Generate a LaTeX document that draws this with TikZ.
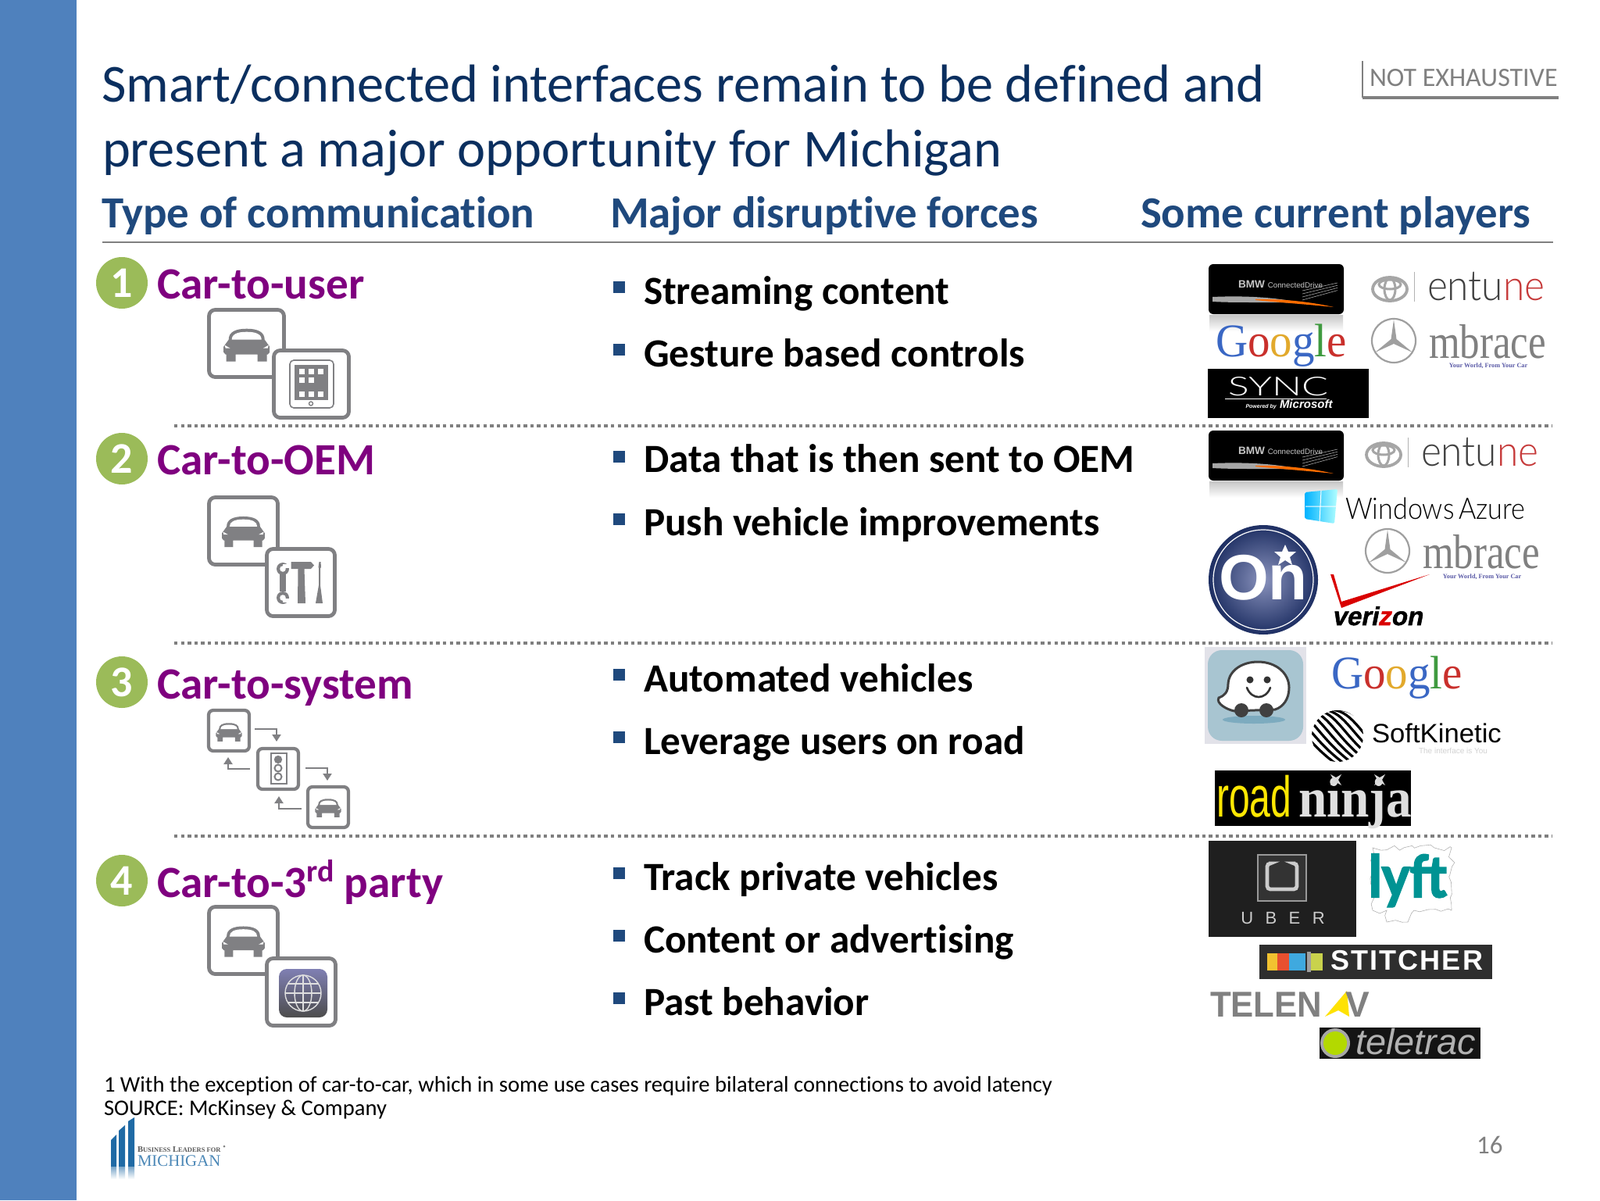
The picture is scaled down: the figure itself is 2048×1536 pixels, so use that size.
\documentclass[tikz,border=0pt]{standalone}
\usepackage{fontspec}
\usepackage{graphicx}
\usetikzlibrary{decorations.pathmorphing,arrows.meta}
\setmainfont{Carlito}[Ligatures={NoCommon}]
\newfontfamily\serifl{Liberation Serif}
\newfontfamily\sansl{Liberation Sans}
\newfontfamily\latol{Lato}
\newfontfamily\latolight{Lato Light}
\newfontfamily\lyftf[FakeBold=3]{Lato Bold}
\newfontfamily\vzf[FakeBold=1.5,FakeSlant=0.2]{Liberation Sans Bold}
\newfontfamily\stitchf[LetterSpace=6]{Liberation Sans Bold}
\definecolor{barblue}{HTML}{4F81BD}
\definecolor{titlenavy}{HTML}{0B2F5F}
\definecolor{headblue}{HTML}{1F497D}
\definecolor{bulletblue}{HTML}{1F497D}
\definecolor{labpurple}{HTML}{7F007F}
\definecolor{circgreen}{HTML}{9BBB59}
\definecolor{icongray}{HTML}{808083}
\definecolor{dotgray}{HTML}{7F7F7F}
\definecolor{gblue}{HTML}{3A67C4}
\definecolor{gred}{HTML}{C9302C}
\definecolor{gyellow}{HTML}{E2A92C}
\definecolor{ggreen}{HTML}{3F9A3F}
\newcommand{\fs}[1]{\fontsize{#1}{#1}\selectfont}
\newcommand{\googleword}{\textcolor{gblue}{G}\textcolor{gred}{o}\textcolor{gyellow}{o}\textcolor{gblue}{g}\textcolor{ggreen}{l}\textcolor{gred}{e}}
\tikzset{
  txt/.style={inner sep=0pt,outer sep=0pt,anchor=base west},
  ctr/.style={inner sep=0pt,outer sep=0pt,anchor=base},
  numcirc/.style={circle,fill=circgreen,minimum size=33pt,inner sep=0pt,text=white,font=\bfseries\fs{28}},
  lab/.style={txt,text=labpurple,font=\bfseries\fs{28.6}},
  headtxt/.style={txt,text=headblue,font=\bfseries\fs{28.45}},
  titletxt/.style={txt,text=titlenavy,font=\fs{34.2}},
  bullettxt/.style={txt,text=black,font=\bfseries\fs{25.6}},
  bulletmark/.style={fill=bulletblue,draw=none},
  iconbox/.style={draw=icongray,fill=white,line width=2.4pt,rounded corners=4pt},
  iconboxs/.style={draw=icongray,fill=white,line width=2.1pt,rounded corners=3pt},
  sep/.style={draw=dotgray,line width=2pt,dash pattern=on 2.2pt off 2.1pt},
  smallarrow/.style={draw=icongray,line width=1pt,-{Triangle[length=4.5pt,width=5.5pt]}},
  footnote/.style={txt,text=black,font=\fs{14.3}},
  car/.pic={
    \fill[icongray] (-23,-7) .. controls (-23,-17) and (-14,-21) .. (0,-21) .. controls (14,-21) and (23,-17) .. (23,-7) -- (29.5,2) -- (29.5,9) -- (27,12) -- (26,12) -- (26,21) -- (14,21) -- (14,12) -- (-14,12) -- (-14,21) -- (-26,21) -- (-26,12) -- (-27,12) -- (-29.5,9) -- (-29.5,2) -- cycle;
    \fill[white] (-19,-7) .. controls (-19,-14) and (-12,-17) .. (0,-17) .. controls (12,-17) and (19,-14) .. (19,-7) -- cycle;
    \fill[white] (-28,0) -- (-21,4) -- (-27,4) -- cycle;
    \fill[white] (28,0) -- (21,4) -- (27,4) -- cycle;
  },
  toyota/.pic={
    \draw[gray!70,line width=1.9pt] (0,0) ellipse [x radius=22,y radius=15];
    \draw[gray!70,line width=1.5pt] (0,0) ellipse [x radius=7,y radius=14];
    \draw[gray!70,line width=1.5pt] (0,-6) ellipse [x radius=14,y radius=6];
  },
  mbstar/.pic={
    \draw[gray!75,line width=1.1pt] (0,0) circle [radius=28];
    \fill[gray!75] (0,-27) -- (3.5,-2) -- (24,15) -- (0,4) -- (-24,15) -- (-3.5,-2) -- cycle;
  },
  shuriken/.pic={
    \fill[gray!30] (-7,-7) -- (0,-3) -- (7,-7) -- (3,0) -- (7,7) -- (0,3) -- (-7,7) -- (-3,0) -- cycle;
  },
}
\newcommand{\entune}[2]{%
  \node[txt,font=\latolight\fs{27}] (#1) at (#2) {\scalebox{.92}[1]{\textcolor{black!75}{ent}\textcolor{black!75}{u}\textcolor{red!55!gray}{ne}}};}
\newcommand{\mbrace}[2]{%
  \node[txt,text=gray,font=\serifl\fs{27}] (#1) at (#2) {\scalebox{0.945}[1.15]{mbrace}};}
\newcommand{\bmwlogo}[2]{%
  \begin{scope}[shift={(#2)}]
    \fill[black,rounded corners=3pt] (0,0) rectangle (173,64);
    \fill[gray!70] (5,42) .. controls (50,40) and (90,43) .. (120,50) .. controls (80,48) and (40,50) .. (5,48) -- cycle;
    \fill[orange!85!red] (60,45) .. controls (90,44) and (130,48) .. (160,55) .. controls (120,51) and (90,49) .. (60,46) -- cycle;
    \foreach \d in {0,4,8,12}{\draw[gray!70,line width=.3pt] (120,34+\d) -- (165,24+\d*.8);}
    \node[txt,text=gray!45,font=\sansl\bfseries\fs{6.8}] (#1) at (38,30) {BMW \scalebox{.72}{\textcolor{gray!45}{\mdseries ConnectedDrive}}};
    \shade[top color=gray!45,bottom color=white] (1,65) rectangle (172,86);
  \end{scope}}
\begin{document}
\begin{tikzpicture}[x=0.5pt,y=-0.5pt]
\useasboundingbox (0,0) rectangle (2048,1536);
\fill[white] (0,0) rectangle (2048,1536);
\fill[barblue] (0,0) rectangle (98,1536);

% title
\node[titletxt] (t1) at (130,130.5) {Smart/connected interfaces remain to be defined and};
\node[titletxt] (t2) at (131,213) {present a major opportunity for Michigan};
% not exhaustive
\node[txt,text=gray,font=\fs{17}] (ne) at (1753,110.5) {NOT EXHAUSTIVE};
\draw[gray,line width=.8pt] (1744,78) -- (1744,125);
\draw[gray,line width=2.4pt] (1744,125) -- (1995,125);
% headers
\node[headtxt] (h1) at (130,291) {Type of communication};
\node[headtxt] (h2) at (781,291) {Major disruptive forces};
\node[headtxt] (h3) at (1460,291) {Some current players};
\draw[gray,line width=.8pt] (131,310) -- (1988,310);
% separators
\draw[sep] (223,545) -- (1987,545);
\draw[sep] (223,823) -- (1987,823);
\draw[sep] (223,1070) -- (1987,1070);

% numbered labels
\node[numcirc] (c1) at (156,362) {1};
\node[numcirc] (c2) at (156,587) {2};
\node[numcirc] (c3) at (156,873) {3};
\node[numcirc] (c4) at (156,1127) {4};
\node[lab] (l1) at (201,382) {Car-to-user};
\node[lab] (l2) at (201,607.5) {Car-to-OEM};
\node[lab] (l3) at (201,894) {Car-to-system};
\node[lab] (l4) at (201,1148) {Car-to-3{\fs{20}\raisebox{10pt}{rd}} party};

% icon 1
\draw[iconbox] (267.5,396.5) rectangle (363.5,482.5);
\pic at (315.7,441.7) {car};
\draw[iconbox] (350.5,448.5) rectangle (446.5,534.5);
\draw[icongray,line width=.8pt,rounded corners=2.5pt] (371,461) rectangle (427,522);
\fill[icongray] (377,467) rectangle (420,512);
\foreach \x/\y in {386/475,398/475,410/475,386/486,398/486,386/504,398/504,410/504}{\fill[white] (\x-3.5,\y-3.5) rectangle (\x+3.5,\y+3.5);}
\draw[icongray,line width=.7pt] (398,516.5) circle [radius=2.5];

% icon 2
\draw[iconbox] (267.5,636.5) rectangle (355.5,722.5);
\pic[scale=.93] at (311.5,680.5) {car};
\draw[iconbox] (341.5,702.5) rectangle (428.5,788.5);
\fill[icongray] (372.7,719) -- (398,719) -- (402,723.5) -- (398,728) -- (372.7,728) -- cycle;
\fill[icongray] (381.5,728) -- (389.5,728) -- (391,772) -- (381,772) -- cycle;
\fill[icongray] (408.5,719) -- (410.5,719) -- (411,726) -- (410,727) -- (410,749) -- (413,772) -- (404,772) -- (408,749) -- (408,727) -- (407.5,726) -- cycle;
\fill[icongray] (358,735) rectangle (366,757);
\fill[icongray] (362,728) circle [radius=8];
\fill[white] (362,728) circle [radius=3.8];
\fill[white] (362,722) rectangle (372,727);
\fill[icongray] (362,765) circle [radius=8];
\fill[white] (362,765) circle [radius=3.8];
\fill[white] (362,766) rectangle (372,771);

% icon 3
\draw[iconboxs] (267,909) rectangle (319,961);
\pic[scale=.56] at (293,937) {car};
\draw[iconboxs] (330,958) rectangle (382,1010);
\draw[icongray,line width=1pt] (347,964) rectangle (367,1003);
\fill[icongray] (356,972) circle [radius=5.2];
\draw[icongray,line width=1pt] (356,983) circle [radius=4.5];
\draw[icongray,line width=1pt] (356,994) circle [radius=4.5];
\draw[iconboxs] (394,1007) rectangle (446,1059);
\pic[scale=.56] at (420,1034) {car};
\draw[smallarrow] (326,933) -- (354,933) -- (354,949);
\draw[smallarrow] (320,984) -- (292,984) -- (292,969);
\draw[smallarrow] (391,983) -- (419,983) -- (419,999);
\draw[smallarrow] (386,1035) -- (357,1035) -- (357,1019);

% icon 4
\draw[iconbox] (267.5,1160.5) rectangle (355.5,1246.5);
\pic[scale=.93] at (311.5,1205) {car};
\draw[iconbox] (341.5,1226.5) rectangle (429.5,1312.5);
\shade[top color=gray!75!blue!80,bottom color=black!70,rounded corners=5pt] (357,1240) rectangle (419,1302);
\begin{scope}[draw=gray!25,line width=.7pt]
\draw (388,1271) circle [radius=23];
\draw (388,1271) ellipse [x radius=11,y radius=23];
\draw (365,1271) -- (411,1271);
\draw (388,1248) -- (388,1294);
\draw (368,1259) -- (408,1259);
\draw (368,1283) -- (408,1283);
\end{scope}

% bullets
\foreach \y in {367,447,584,664,863,943,1117,1197,1277}{\fill[bulletmark] (785,\y-7.5) rectangle (800,\y+7.5);}
\node[bullettxt] (b1) at (824,389) {Streaming content};
\node[bullettxt] (b2) at (824,469) {Gesture based controls};
\node[bullettxt] (b3) at (824,604.5) {Data that is then sent to OEM};
\node[bullettxt] (b4) at (824,685) {Push vehicle improvements};
\node[bullettxt] (b5) at (824,885.5) {Automated vehicles};
\node[bullettxt] (b6) at (824,965.5) {Leverage users on road};
\node[bullettxt] (b7) at (824,1139.5) {Track private vehicles};
\node[bullettxt] (b8) at (824,1219.5) {Content or advertising};
\node[bullettxt] (b9) at (824,1299.5) {Past behavior};

% row 1 logos
\bmwlogo{bmwa}{1547,338}
\pic at (1779,370) {toyota};
\draw[gray!60,line width=.5pt] (1810,348) -- (1810,386);
\entune{enta}{1827,384}
\node[txt,font=\serifl\fs{30}] (ga) at (1556,456) {\scalebox{.95}[1]{\googleword}};
\pic at (1784,436) {mbstar};
\mbrace{mba}{1829,458}
\node[ctr,text=gray!70!blue,font=\serifl\bfseries\fs{4.1}] (mbta) at (1905,470) {Your World, From Your Car};
\fill[black] (1546,472) rectangle (1752,535);
\node[ctr,text=white,font=\latolight\fs{21}] (sync) at (1636,506) {\scalebox{1.2}[.8]{SYNC}};
\draw[white,line width=.5pt] (1568,510) -- (1698,510);
\node[ctr,text=white,font=\sansl\bfseries\itshape\fs{7.5}] (ms) at (1650,522) {{\fs{3.5}Powered by} Microsoft};

% row 2 logos
\bmwlogo{bmwb}{1547,551}
\pic at (1771,582) {toyota};
\draw[gray!60,line width=.5pt] (1802,560) -- (1802,598);
\entune{entb}{1819,596}
\begin{scope}[shift={(1691,648)}]
  \shade[left color=cyan!70!blue,right color=cyan!30,rounded corners=1pt] (-21,-18) -- (21,-22) -- (17,22) -- (-21,16) -- cycle;
  \draw[white,line width=.5pt] (-20,0) -- (19,0) (0,-20) -- (-2,20);
\end{scope}
\node[txt,text=black,font=\latolight\fs{19}] (az) at (1722,664) {\scalebox{.9}[1]{Windows\,Azure}};
\pic at (1776,705) {mbstar};
\mbrace{mbb}{1821,727}
\node[ctr,text=gray!70!blue,font=\serifl\bfseries\fs{4.1}] (mbtb) at (1897,740) {Your World, From Your Car};
\definecolor{oninner}{HTML}{8A93BD}
\definecolor{onouter}{HTML}{1E2F63}
\shade[inner color=oninner,outer color=onouter] (1617,742) circle [radius=70];
\draw[white,line width=.6pt] (1617,742) circle [radius=64];
\node[ctr,text=white,font=\sansl\bfseries\fs{41}] (on) at (1617,767) {On};
\fill[white] (1645,697) -- (1649,706) -- (1659,706) -- (1651,713) -- (1654,723) -- (1645,717) -- (1636,723) -- (1639,713) -- (1631,706) -- (1641,706) -- cycle;
\fill[red!85!black] (1703,735) -- (1717,778) -- (1830,735) -- (1717,770) -- (1707,735) -- cycle;
\node[txt,text=black,font=\vzf\fs{16.5}] (vz) at (1705,800) {veri\textcolor{red!85!black}{z}on};

% row 3 logos
\fill[blue!15!gray!20] (1542,828) rectangle (1672,952);
\fill[cyan!35!gray!60,rounded corners=9pt] (1546,832) rectangle (1668,948);
\fill[cyan!40!gray!90] (1605,921) ellipse [x radius=40,y radius=5];
\filldraw[fill=white,draw=black!75,line width=1.5pt] (1560,893) .. controls (1568,890) and (1572,885) .. (1572,875) .. controls (1573,858) and (1590,847) .. (1610,847) .. controls (1634,847) and (1650,862) .. (1650,880) .. controls (1650,895) and (1642,905) .. (1632,908) -- (1580,910) .. controls (1570,908) and (1556,900) .. (1560,893) -- cycle;
\fill[black!80] (1600,870) circle [radius=4.5] (1622,870) circle [radius=4.5];
\draw[black!80,line width=1.3pt,line cap=round] (1596,880) .. controls (1602,896) and (1620,896) .. (1626,880);
\fill[black!75] (1589,909) circle [radius=9] (1621,909) circle [radius=9];
\node[txt,font=\serifl\fs{30}] (gb) at (1704,881) {\scalebox{.95}[1]{\googleword}};
\begin{scope}
  \clip (1712,942) circle [radius=33];
  \foreach \i in {-6,...,6}{\draw[black,line width=1.6pt] (1712+\i*11-40,942-34) .. controls (1712+\i*11-10,942-30) and (1712+\i*11-5,942) .. (1712+\i*11+40,942+34);}
\end{scope}
\node[txt,text=black,font=\sansl\fs{17}] (sk) at (1756,950) {\scalebox{1.02}[1]{SoftKinetic}};
\node[txt,text=gray!35,font=\sansl\fs{5}] (sktag) at (1816,964) {The interface is You};
\fill[black] (1555,986) rectangle (1806,1057);
\node[txt,text=yellow!90!orange,font=\sansl\fs{32}] (rn1) at (1557,1045) {\scalebox{.75}[1.15]{road}};
\node[txt,text=gray!25,font=\serifl\bfseries\fs{32}] (rn2) at (1662,1045) {\scalebox{1.02}[1.12]{ninja}};
\pic at (1710,998) {shuriken};
\pic at (1766,998) {shuriken};

% row 4 logos
\fill[black!88] (1547,1076) rectangle (1736,1199);
\draw[gray!80,line width=1.2pt,fill=black!80] (1610,1094) rectangle (1672,1153);
\draw[gray!40,line width=2.4pt,rounded corners=2pt] (1624,1105) -- (1622,1105) -- (1622,1138) -- (1660,1138) -- (1660,1105) -- (1658,1105);
\node[ctr,text=gray!40,font=\sansl\fs{11}] (ub) at (1642,1182) {U\hspace{.7em}B\hspace{.7em}E\hspace{.7em}R};
\draw[gray!60,line width=.3pt,decorate,decoration={random steps,segment length=4pt,amplitude=2pt}] (1757,1085) -- (1858,1085) -- (1858,1165) -- (1810,1165) -- (1802,1180) -- (1775,1180) -- (1775,1165) -- (1757,1165) -- cycle;
\node[txt,text=teal!85!cyan,font=\lyftf\fs{42}] (ly) at (1752,1148) {\scalebox{.8}[.88]{lyft}};
\fill[black!82] (1612,1209) rectangle (1910,1253);
\definecolor{stblue}{HTML}{3FA9DF}
\definecolor{stred}{HTML}{E8502F}
\definecolor{styel}{HTML}{F2C230}
\definecolor{stlime}{HTML}{C9D24C}
\fill[styel] (1622,1220) rectangle (1635,1242);
\fill[stred] (1635,1220) rectangle (1650,1242);
\fill[stblue] (1650,1220) rectangle (1671,1242);
\fill[gray!75] (1673,1218) rectangle (1678,1244);
\fill[stlime] (1678,1220) rectangle (1693,1242);
\node[txt,text=white,font=\stitchf\fs{18}] (st) at (1703,1241) {STITCHER};
\node[txt,text=gray,font=\sansl\bfseries\fs{23}] (tn) at (1549,1301) {\scalebox{.95}[1]{TELEN}};
\fill[yellow!85!orange] (1696,1301) -- (1724,1268) -- (1727,1301) -- (1713,1293) -- cycle;
\node[txt,text=gray,font=\sansl\bfseries\fs{23}] (tnv) at (1722,1301) {V};
\fill[black!92] (1689,1315) rectangle (1895,1355);
\fill[gray!70] (1709,1335) circle [radius=19];
\fill[lime!70!yellow!85!black] (1709,1335) circle [radius=15];
\node[txt,text=gray!60,font=\sansl\itshape\fs{23}] (tt) at (1735,1349) {\scalebox{1.02}[1]{teletrac}};

% footer
\node[footnote] (f1) at (133,1397) {1 With the exception of car-to-car, which in some use cases require bilateral connections to avoid latency};
\node[footnote] (f2) at (133,1427) {SOURCE: McKinsey \& Company};
\node[txt,text=gray,font=\fs{16.5}] (pg) at (1890,1476) {16};
% Michigan logo
\definecolor{bizblue}{HTML}{1F6AA5}
\fill[bizblue] (142,1493) -- (142,1459) -- (149,1452) -- (149,1493) -- cycle;
\fill[bizblue] (152,1493) -- (152,1447) -- (160,1440) -- (160,1493) -- cycle;
\fill[bizblue] (164,1493) -- (164,1435) -- (172,1430) -- (172,1493) -- cycle;
\shade[top color=bizblue!60,bottom color=white] (142,1493) rectangle (149,1509);
\shade[top color=bizblue!60,bottom color=white] (152,1493) rectangle (160,1509);
\shade[top color=bizblue!60,bottom color=white] (164,1493) rectangle (172,1509);
\node[txt,text=gray!70!black,font=\serifl\bfseries\fs{5.3}] (bz) at (176,1474) {B\scalebox{.8}{USINESS} L\scalebox{.8}{EADERS FOR}};
\node[txt,text=bizblue!80,font=\serifl\fs{10.4}] (mi) at (176,1492) {MICHIGAN};
\fill[gray] (287,1467) circle [radius=1.5];
\end{tikzpicture}
\end{document}
